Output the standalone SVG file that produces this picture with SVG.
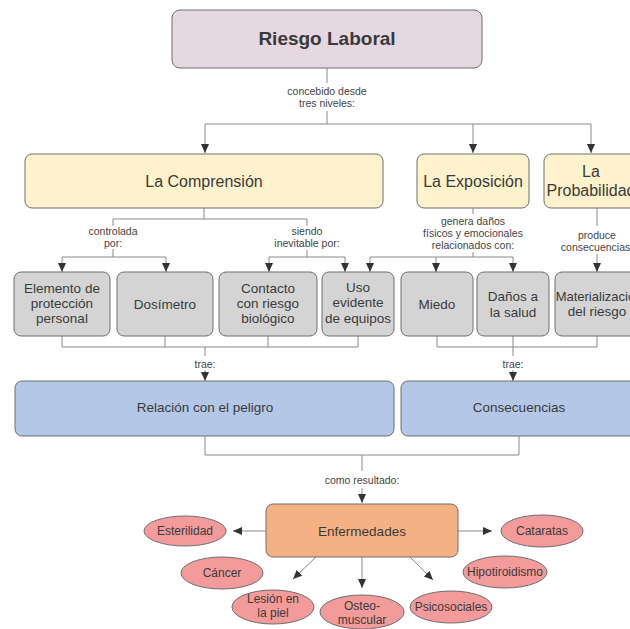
<svg xmlns="http://www.w3.org/2000/svg" width="630" height="629" viewBox="0 0 630 629">
  <defs>
    <marker id="arrow" markerUnits="userSpaceOnUse" markerWidth="10" markerHeight="10" refX="9" refY="5" orient="auto">
      <path d="M0,1 L9,5 L0,9 Z" fill="#333"/>
    </marker>
    <style>
      text { font-family: "Liberation Sans", Arial, sans-serif; fill: #3a3a3a; text-anchor: middle; }
      .box { stroke: #6e6e6e; stroke-width: 1; }
      .root { fill: #e5d8e1; }
      .lvl { fill: #fff2cc; }
      .item { fill: #d4d4d4; }
      .group { fill: #b4c7e7; }
      .dis { fill: #f4b183; }
      .leaf { fill: #f39b9b; stroke: #6e6e6e; stroke-width: 1; }
      .t-root { font-size: 19px; font-weight: bold; }
      .t-lvl { font-size: 16px; }
      .t-item { font-size: 13.5px; }
      .t-group { font-size: 13.5px; }
      .t-leaf { font-size: 12px; }
      .lbl { font-size: 10.5px; fill: #444; }
      .line { fill: none; stroke: #8a8a8a; stroke-width: 1; }
      .arr { fill: none; stroke: #8a8a8a; stroke-width: 1; marker-end: url(#arrow); }
    </style>
  </defs>

  <rect width="630" height="629" fill="#ffffff"/>

  <!-- connectors -->
  <g id="connectors">
    <!-- Riesgo Laboral to the three levels -->
    <path class="line" d="M327,68 V83 M327,111 V124 M205,124 H591"/>
    <path class="arr" d="M205,124 V153"/>
    <path class="arr" d="M473,124 V153"/>
    <path class="arr" d="M591,124 V153"/>
    <text class="lbl" x="327" y="95">concebido desde</text>
    <text class="lbl" x="327" y="107">tres niveles:</text>

    <!-- La Comprensión branches -->
    <path class="line" d="M204,208 V219 M113,219 H307 M113,219 V226 M113,249 V257 M62,257 H166 M307,219 V226 M307,250 V257 M269,257 H345"/>
    <path class="arr" d="M62,257 V272"/>
    <path class="arr" d="M166,257 V272"/>
    <path class="arr" d="M269,257 V272"/>
    <path class="arr" d="M345,257 V272"/>
    <text class="lbl" x="113" y="235">controlada</text>
    <text class="lbl" x="113" y="247">por:</text>
    <text class="lbl" x="307" y="235">siendo</text>
    <text class="lbl" x="307" y="247">inevitable por:</text>

    <!-- La Exposición branches -->
    <path class="line" d="M473,208 V214 M473,252 V257 M370,257 H513"/>
    <path class="arr" d="M370,257 V272"/>
    <path class="arr" d="M436,257 V272"/>
    <path class="arr" d="M513,257 V272"/>
    <text class="lbl" x="473" y="225">genera daños</text>
    <text class="lbl" x="473" y="237">físicos y emocionales</text>
    <text class="lbl" x="473" y="249">relacionados con:</text>

    <!-- La Probabilidad branch -->
    <path class="line" d="M597,208 V226"/>
    <path class="arr" d="M597,254 V272"/>
    <text class="lbl" x="597" y="239">produce</text>
    <text class="lbl" x="597" y="251">consecuencias:</text>

    <!-- items to groups -->
    <path class="line" d="M62,336 V347 M165,336 V347 M268,336 V347 M358,336 V347 M62,347 H358 M205,347 V356"/>
    <path class="arr" d="M205,370 V381"/>
    <text class="lbl" x="205" y="368">trae:</text>
    <path class="line" d="M437,336 V347 M513,336 V347 M597,336 V347 M437,347 H597 M513,347 V356"/>
    <path class="arr" d="M513,370 V381"/>
    <text class="lbl" x="513" y="368">trae:</text>

    <!-- groups to Enfermedades -->
    <path class="line" d="M205,436 V455 M519,436 V455 M205,455 H519 M362,455 V471"/>
    <path class="arr" d="M362,488 V503"/>
    <text class="lbl" x="362" y="484">como resultado:</text>

    <!-- Enfermedades to its kinds -->
    <path class="arr" d="M266,531 H233"/>
    <path class="arr" d="M458,531 H492"/>
    <path class="arr" d="M316,557 L293,579"/>
    <path class="arr" d="M362,557 V588"/>
    <path class="arr" d="M410,557 L433,580"/>
  </g>

  <!-- root -->
  <g id="riesgo-laboral">
    <rect class="box root" x="172" y="10" width="310" height="58" rx="8"/>
    <text class="t-root" x="327" y="45">Riesgo Laboral</text>
  </g>

  <!-- three levels -->
  <g id="la-comprension">
    <rect class="box lvl" x="25" y="154" width="358" height="54" rx="7"/>
    <text class="t-lvl" x="204" y="187">La Comprensión</text>
  </g>
  <g id="la-exposicion">
    <rect class="box lvl" x="417" y="154" width="112" height="54" rx="7"/>
    <text class="t-lvl" x="473" y="187">La Exposición</text>
  </g>
  <g id="la-probabilidad">
    <rect class="box lvl" x="544" y="154" width="100" height="54" rx="7"/>
    <text class="t-lvl" x="591" y="177">La</text>
    <text class="t-lvl" x="591" y="196">Probabilidad</text>
  </g>

  <!-- items -->
  <g id="elemento-proteccion">
    <rect class="box item" x="14" y="272" width="96" height="64" rx="7"/>
    <text class="t-item" x="62" y="293">Elemento de</text>
    <text class="t-item" x="62" y="308">protección</text>
    <text class="t-item" x="62" y="323">personal</text>
  </g>
  <g id="dosimetro">
    <rect class="box item" x="117" y="272" width="96" height="64" rx="7"/>
    <text class="t-item" x="165" y="309">Dosímetro</text>
  </g>
  <g id="contacto-riesgo">
    <rect class="box item" x="219" y="272" width="98" height="64" rx="7"/>
    <text class="t-item" x="268" y="293">Contacto</text>
    <text class="t-item" x="268" y="308">con riesgo</text>
    <text class="t-item" x="268" y="323">biológico</text>
  </g>
  <g id="uso-equipos">
    <rect class="box item" x="322" y="272" width="72" height="64" rx="7"/>
    <text class="t-item" x="358" y="292">Uso</text>
    <text class="t-item" x="358" y="307">evidente</text>
    <text class="t-item" x="358" y="323">de equipos</text>
  </g>
  <g id="miedo">
    <rect class="box item" x="401" y="272" width="72" height="64" rx="7"/>
    <text class="t-item" x="437" y="309">Miedo</text>
  </g>
  <g id="danos-salud">
    <rect class="box item" x="477" y="272" width="72" height="64" rx="7"/>
    <text class="t-item" x="513" y="301">Daños a</text>
    <text class="t-item" x="513" y="317">la salud</text>
  </g>
  <g id="materializacion">
    <rect class="box item" x="555" y="272" width="86" height="64" rx="7"/>
    <text class="t-item" x="599" y="301" style="font-size:13px">Materialización</text>
    <text class="t-item" x="597" y="316">del riesgo</text>
  </g>

  <!-- groups -->
  <g id="relacion-peligro">
    <rect class="box group" x="15" y="381" width="379" height="55" rx="7"/>
    <text class="t-group" x="205" y="412">Relación con el peligro</text>
  </g>
  <g id="consecuencias">
    <rect class="box group" x="401" y="381" width="238" height="55" rx="7"/>
    <text class="t-group" x="519" y="412">Consecuencias</text>
  </g>

  <!-- Enfermedades -->
  <g id="enfermedades">
    <rect class="box dis" x="266" y="504" width="192" height="53" rx="7"/>
    <text class="t-group" x="362" y="536">Enfermedades</text>
  </g>

  <!-- kinds of illness -->
  <g id="esterilidad">
    <ellipse class="leaf" cx="185" cy="531" rx="41" ry="15"/>
    <text class="t-leaf" x="185" y="535">Esterilidad</text>
  </g>
  <g id="cataratas">
    <ellipse class="leaf" cx="542" cy="531" rx="41" ry="16"/>
    <text class="t-leaf" x="542" y="535">Cataratas</text>
  </g>
  <g id="cancer">
    <ellipse class="leaf" cx="222" cy="573" rx="41" ry="16"/>
    <text class="t-leaf" x="222" y="577">Cáncer</text>
  </g>
  <g id="hipotiroidismo">
    <ellipse class="leaf" cx="505" cy="572" rx="42" ry="16"/>
    <text class="t-leaf" x="505" y="576">Hipotiroidismo</text>
  </g>
  <g id="lesion-piel">
    <ellipse class="leaf" cx="273" cy="607" rx="41" ry="17"/>
    <text class="t-leaf" x="273" y="603">Lesión en</text>
    <text class="t-leaf" x="273" y="617">la piel</text>
  </g>
  <g id="osteomuscular">
    <ellipse class="leaf" cx="362" cy="612" rx="42" ry="17"/>
    <text class="t-leaf" x="362" y="610">Osteo-</text>
    <text class="t-leaf" x="362" y="624">muscular</text>
  </g>
  <g id="psicosociales">
    <ellipse class="leaf" cx="451" cy="607" rx="41" ry="16"/>
    <text class="t-leaf" x="451" y="611">Psicosociales</text>
  </g>
</svg>
